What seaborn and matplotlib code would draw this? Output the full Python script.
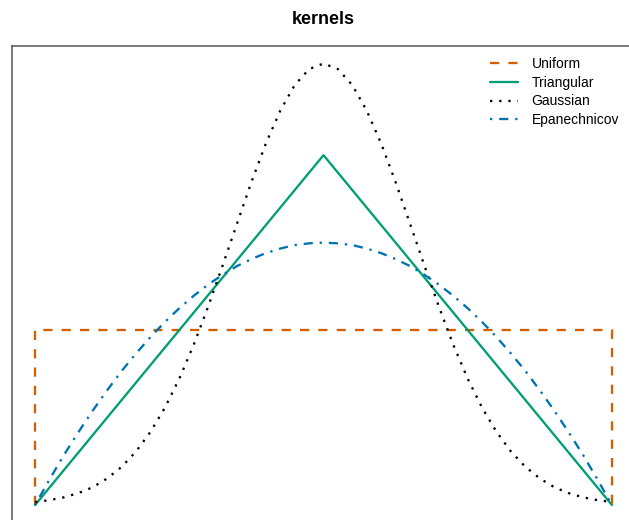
import matplotlib
matplotlib.use("Agg")
import matplotlib.pyplot as plt
import pandas as pd
import seaborn as sns

# Kernel shapes on [-1, 1]
grid_x = [-1.00, -0.95, -0.90, -0.85, -0.80, -0.75, -0.70, -0.65, -0.60, -0.55,
          -0.50, -0.45, -0.40, -0.35, -0.30, -0.25, -0.20, -0.15, -0.10, -0.05,
          0.00, 0.05, 0.10, 0.15, 0.20, 0.25, 0.30, 0.35, 0.40, 0.45,
          0.50, 0.55, 0.60, 0.65, 0.70, 0.75, 0.80, 0.85, 0.90, 0.95, 1.00]

gaussian_y = [0.0085, 0.014, 0.022, 0.034, 0.051, 0.076, 0.109, 0.153, 0.209, 0.278,
              0.361, 0.458, 0.567, 0.684, 0.804, 0.923, 1.033, 1.127, 1.200, 1.246,
              1.262, 1.246, 1.200, 1.127, 1.033, 0.923, 0.804, 0.684, 0.567, 0.458,
              0.361, 0.278, 0.209, 0.153, 0.109, 0.076, 0.051, 0.034, 0.022, 0.014, 0.0085]

epan_y = [0.000, 0.073, 0.143, 0.208, 0.270, 0.328, 0.383, 0.433, 0.480, 0.523,
          0.5625, 0.598, 0.630, 0.658, 0.683, 0.703, 0.720, 0.733, 0.743, 0.748,
          0.750, 0.748, 0.743, 0.733, 0.720, 0.703, 0.683, 0.658, 0.630, 0.598,
          0.5625, 0.523, 0.480, 0.433, 0.383, 0.328, 0.270, 0.208, 0.143, 0.073, 0.000]

uniform_x = [-1.0, -1.0, 1.0, 1.0]
uniform_y = [0.0, 0.5, 0.5, 0.0]

tri_x = [-1.0, 0.0, 1.0]
tri_y = [0.0, 1.0, 0.0]

labels = ["Uniform", "Triangular", "Gaussian", "Epanechnicov"]
colors = ["#D55E00", "#009E73", "#000000", "#0072B2"]
styles = [(0, (4.0, 4.0)), "-", (0, (1.0, 3.0)), (0, (1.0, 3.0, 4.0, 3.0))]

sns.set_theme(style="white")
plt.rcParams["font.family"] = ["Liberation Sans", "DejaVu Sans"]
plt.rcParams["text.color"] = "black"

W, H = 629, 520
fig = plt.figure(figsize=(W / 100, H / 100), dpi=100)
# plot region: left edge 12px, top 46px; right and bottom fall past the canvas
left, right, top, bottom = 12, 635, 46, 522.7
ax = fig.add_axes([left / W, 1 - bottom / H, (right - left) / W, (bottom - top) / H])

series = [
    (uniform_x, uniform_y),
    (tri_x, tri_y),
    (grid_x, gaussian_y),
    (grid_x, epan_y),
]
for (xs, ys), lab, col, ls in zip(series, labels, colors, styles):
    df = pd.DataFrame({"x": xs, "y": ys})
    sns.lineplot(data=df, x="x", y="y", sort=False, estimator=None, ax=ax,
                 color=col, linestyle=ls, linewidth=1.65, label=lab)

ax.set_xlim(-1.08, 1.08)
ax.set_ylim(-0.0505, 1.312)
ax.set_xticks([])
ax.set_yticks([])
ax.set_xlabel("")
ax.set_ylabel("")
for sp in ax.spines.values():
    sp.set_visible(True)
    sp.set_color("#555555")
    sp.set_linewidth(1.1)

ax.set_title("kernels", fontsize=13, fontweight="bold", pad=15.8, color="black")

leg = ax.legend(loc="upper left", bbox_to_anchor=(490 / W, 1 - 57 / H),
                bbox_transform=fig.transFigure, frameon=False, fontsize=10,
                handlelength=2.0, handletextpad=1.0, labelspacing=0.34,
                borderpad=0, borderaxespad=0)
for t in leg.get_texts():
    t.set_color("black")

fig.savefig("out.png", dpi=100)
